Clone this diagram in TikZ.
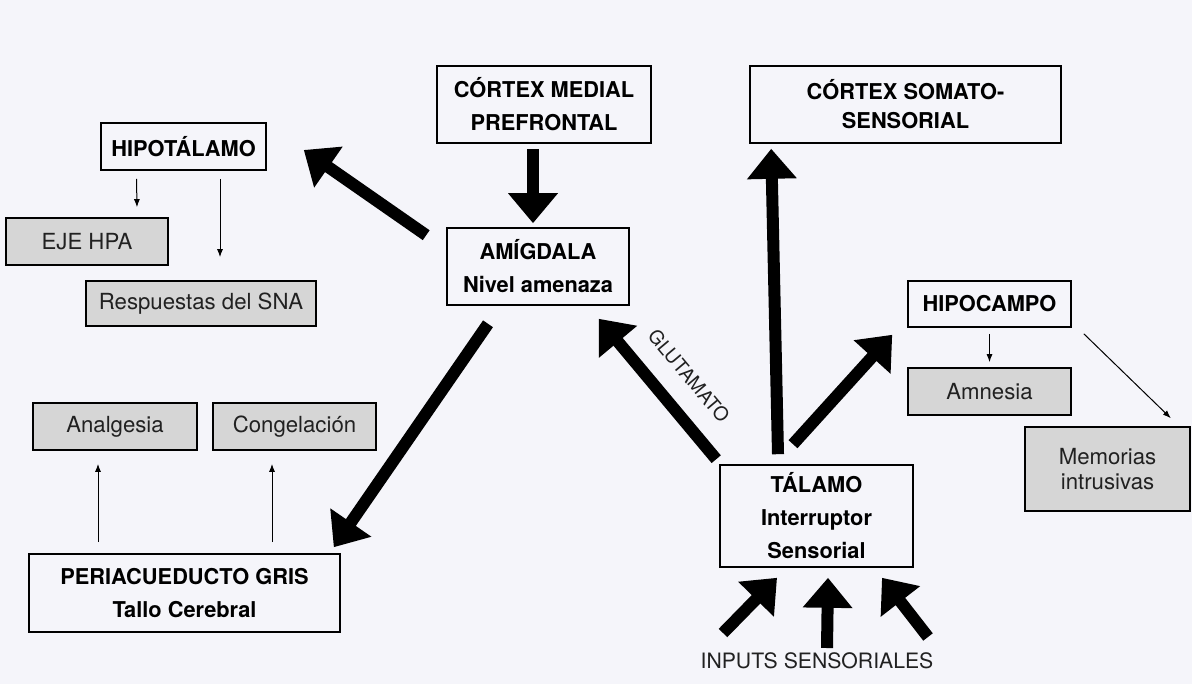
\documentclass[tikz,border=0pt]{standalone}
\usepackage{fontspec}
\setmainfont{TeX Gyre Heros}
\usepackage{tikz}
\usetikzlibrary{arrows.meta}
\definecolor{mback}{rgb}{0.96, 0.96, 0.98}
\definecolor{mgray}{rgb}{0.84, 0.84, 0.84}
\definecolor{mtext}{rgb}{0.13, 0.13, 0.13}
\tikzset{box/.style = {draw, line width=0.8pt, inner sep=0pt, align=center,
                       font=\bfseries\fontsize{10.9}{16.5}\selectfont},
         outcome/.style = {box, fill=mgray, text=mtext,
                           font=\fontsize{11.1}{12.5}\selectfont},
         bigarrow/.style = {line width=6pt, -{Triangle[length=15pt, width=24pt]}},
         thinarrow/.style = {line width=0.5pt, -{Latex[length=4pt, width=3pt]}}}

\begin{document}
\begin{tikzpicture}[x=0.5pt, y=-0.5pt]
    \fill [mback] (0, 0) rectangle (1192, 684);

    \node [box, minimum width=82.5pt, minimum height=23.5pt] (hipot) at (183.5, 146.5) {HIPOTÁLAMO};
    \node [outcome, minimum width=81pt, minimum height=23.5pt] (eje) at (87, 241.5) {EJE HPA};
    \node [outcome, minimum width=115pt, minimum height=22.5pt] (sna) at (201, 303.5) {Respuestas del SNA};
    \node [box, minimum width=107pt, minimum height=38.5pt] (cmp) at (544, 104.5) {CÓRTEX MEDIAL\\PREFRONTAL};
    \node [box, minimum width=91pt, minimum height=38.5pt] (amig) at (538, 266.5) {AMÍGDALA\\Nivel amenaza};
    \node [box, minimum width=155.5pt, minimum height=38.5pt,
           font=\bfseries\fontsize{10.9}{14.5}\selectfont] (somato) at (905.5, 104.5) {CÓRTEX SOMATO-\\SENSORIAL};
    \node [box, minimum width=81.5pt, minimum height=23pt] (hipoc) at (989.5, 304) {HIPOCAMPO};
    \node [outcome, minimum width=81.5pt, minimum height=23.5pt] (amnesia) at (989.5, 391.5) {Amnesia};
    \node [outcome, minimum width=82.5pt, minimum height=42pt] (memorias) at (1107.5, 469) {Memorias\\intrusivas};
    \node [box, minimum width=96.5pt, minimum height=51pt] (talamo) at (816.5, 516) {TÁLAMO\\Interruptor\\Sensorial};
    \node [box, minimum width=155.5pt, minimum height=39pt] (periac) at (184.5, 593) {PERIACUEDUCTO GRIS\\Tallo Cerebral};
    \node [outcome, minimum width=82pt, minimum height=23.5pt] (analg) at (115, 426.5) {Analgesia};
    \node [outcome, minimum width=81.5pt, minimum height=23.5pt] (congel) at (294.5, 426.5) {Congelación};
    \node [text=mtext, font=\fontsize{10.6}{12}\selectfont] (inputs) at (817, 661) {INPUTS SENSORIALES};
    \node [text=mtext, rotate=-50, font=\fontsize{9.6}{11}\selectfont] (glut) at (689, 376) {GLUTAMATO};

    \draw [bigarrow] ([shift={(-11, 5)}]cmp.south) -- ([shift={(-5, -4)}]amig.north);
    \draw [bigarrow] ([shift={(-20, 8)}]amig.north west) -- ([shift={(37, 3.5)}]hipot.east);
    \draw [bigarrow] ([shift={(-50, 18)}]amig.south) -- ([shift={(-7, -6)}]periac.north east);
    \draw [bigarrow] ([shift={(-3, -5)}]talamo.north west) -- ([shift={(-31, 13)}]amig.south east);
    \draw [bigarrow] ([shift={(-38.5, -10)}]talamo.north) -- ([shift={(22, 5)}]somato.south west);
    \draw [bigarrow] ([shift={(-23.5, -20)}]talamo.north) -- ([shift={(-15, 7)}]hipoc.south west);

    \foreach \i/\tx/\ty/\hx in {1/723/633/-39.5, 2/827/648/11.5, 3/928/637/65.5} {
      \coordinate (in\i) at (\tx, \ty);
      \draw [bigarrow] (in\i) -- ([shift={(\hx, 10)}]talamo.south);
    }

    \draw [thinarrow] ([shift={(-47, 8)}]hipot.south) -- ([shift={(50, -10)}]eje.north);
    \draw [thinarrow] ([shift={(36.5, 8)}]hipot.south) -- ([shift={(19, -23)}]sna.north);
    \draw [thinarrow] ([shift={(-86.5, -11)}]periac.north) -- ([shift={(-17, 13)}]analg.south);
    \draw [thinarrow] ([shift={(87.5, -11)}]periac.north) -- ([shift={(-22.5, 13)}]congel.south);
    \draw [thinarrow] ([shift={(0, 6)}]hipoc.south) -- ([shift={(0, -5)}]amnesia.north);
    \draw [thinarrow] ([shift={(12, 6)}]hipoc.south east) -- ([shift={(-20, -8)}]memorias.north east);
  \end{tikzpicture}
\end{document}
